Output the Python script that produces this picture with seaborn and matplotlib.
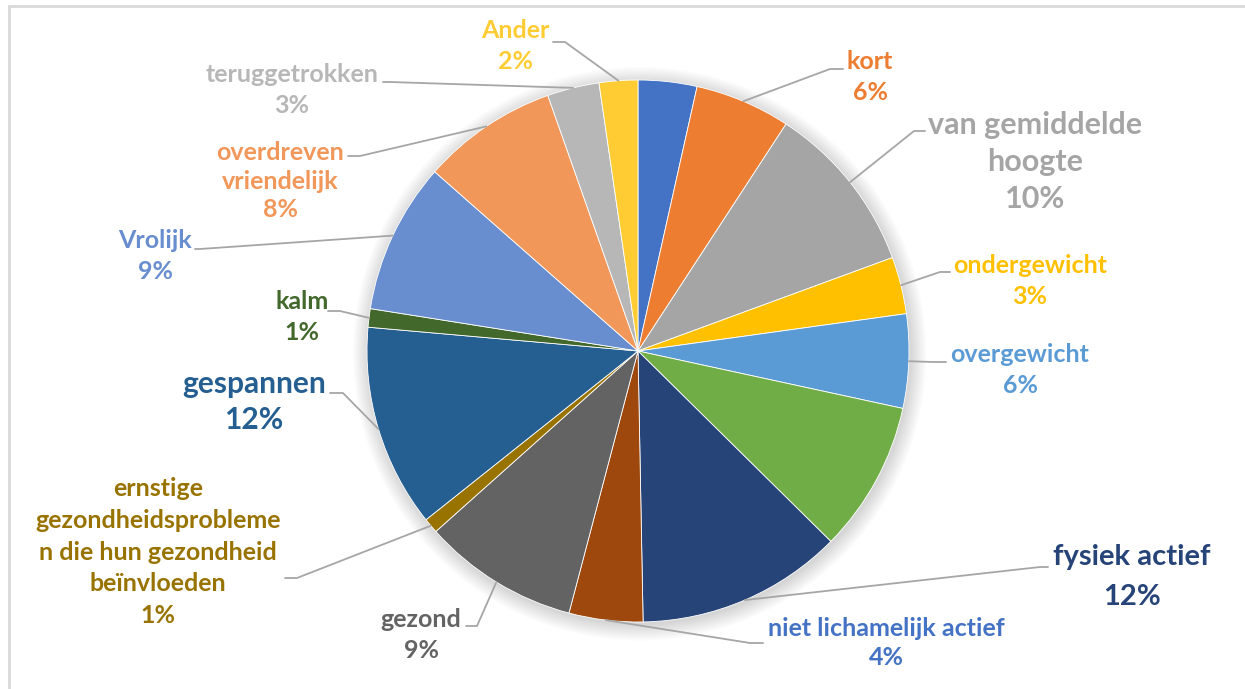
import matplotlib
matplotlib.use("Agg")
import matplotlib.pyplot as plt
from matplotlib.lines import Line2D
from matplotlib.patches import Circle
import seaborn as sns
import numpy as np

# ---------------- data ----------------
categories = ["", "kort", "van gemiddelde\nhoogte", "ondergewicht", "overgewicht", "",
              "fysiek actief", "niet lichamelijk actief", "gezond",
              "ernstige\ngezondheidsprobleme\nn die hun gezondheid\nbeïnvloeden",
              "gespannen", "kalm", "Vrolijk", "overdreven\nvriendelijk",
              "teruggetrokken", "Ander"]
values = [3.5, 5.7, 10.2, 3.4, 5.6, 9.0, 12.3, 4.4, 9.3, 0.9, 12.1, 1.1, 9.0, 8.1, 3.1, 2.3]

slice_colors = ["#4472C4", "#ED7D31", "#A5A5A5", "#FFC000", "#5B9BD5", "#70AD47",
                "#264478", "#9E480E", "#636363", "#997300", "#255E91", "#43682B",
                "#698ED0", "#F1975A", "#B7B7B7", "#FFCD33"]
label_colors = ["#4472C4", "#ED7D31", "#A5A5A5", "#FFC000", "#5B9BD5", "#70AD47",
                "#264478", "#4472C4", "#636363", "#997300", "#255E91", "#43682B",
                "#698ED0", "#F1975A", "#B7B7B7", "#FFCD33"]

# ---------------- layout (pixels) ----------------
W, H = 1245, 689
CX, CY, R = 638, 351, 271
# text centre, leader waypoints (from label side towards the pie), fontsize, linespacing
layout = {
    1: ((870, 77), [(843, 69), (830, 69)], 18, 1.4),
    2: ((1035, 162), [(925, 131), (914, 131)], 22, 1.38),
    3: ((1030, 281), [(950, 272), (940, 272)], 18, 1.4),
    4: ((1020, 370), [(946, 362), (933, 362)], 18, 1.4),
    6: ((1132, 577), [(1048, 567), (1040, 567)], 21, 1.65),
    7: ((886, 643), [(763, 643), (750, 643)], 18, 1.3),
    8: ((421, 635), [(466, 626), (477, 626)], 18, 1.4),
    9: ((158, 552), [(285, 578), (297, 578)], 18, 1.46),
    10: ((254, 402), [(330, 393), (343, 393)], 21.5, 1.38),
    11: ((302, 317), [(328, 311), (340, 311)], 18, 1.4),
    12: ((155, 256), [(195, 249), (200, 249)], 18, 1.4),
    13: ((280, 181), [(348, 156), (360, 156)], 18, 1.3),
    14: ((292, 90), [(383, 82), (390, 82)], 18, 1.4),
    15: ((515, 46), [(553, 42), (565, 42)], 18, 1.4),
}

def P(px, py):
    return ((px - CX) / R, (CY - py) / R)

sns.set_theme(style="white")
plt.rcParams['font.family'] = ['Lato', 'DejaVu Sans']

fig = plt.figure(figsize=(W / 100, H / 100), dpi=100)
fig.patch.set_facecolor("white")
ax = fig.add_axes([0, 0, 1, 1])

# soft shadow
for k in range(14):
    ax.add_patch(Circle((0.006, -0.010), 1.0 + k * 0.0045, color="#000000",
                        alpha=0.012, lw=0, zorder=0))

wedges, _ = ax.pie(values, colors=slice_colors, startangle=90, counterclock=False,
                   radius=1.0, center=(0, 0),
                   wedgeprops=dict(edgecolor="white", linewidth=0.6, zorder=1))

total = sum(values)
for i, (cat, v) in enumerate(zip(categories, values)):
    if i not in layout or not cat:
        continue
    (tx, ty), pts, fs, ls = layout[i]
    w = wedges[i]
    mid = np.deg2rad((w.theta1 + w.theta2) / 2)
    start = (np.cos(mid), np.sin(mid))
    path = [P(*p) for p in pts] + [start]
    xs, ys = zip(*path)
    ax.add_line(Line2D(xs, ys, color="#A6A6A6", lw=1.3, zorder=2))
    pct = int(round(v / total * 100))
    x, y = P(tx, ty)
    ax.text(x, y, f"{cat}\n{pct}%", ha="center", va="center", multialignment="center",
            fontsize=fs, fontweight="bold", color=label_colors[i], linespacing=ls,
            zorder=3)

ax.set_xlim(-CX / R, (W - CX) / R)
ax.set_ylim(-(H - CY) / R, CY / R)
ax.set_aspect("equal")
ax.axis("off")

# chart-area border (top and left visible)
fig.add_artist(Line2D([9 / W, 1], [1 - 6 / H, 1 - 6 / H], transform=fig.transFigure,
                      color="#D9D9D9", lw=2))
fig.add_artist(Line2D([9 / W, 9 / W], [0, 1 - 6 / H], transform=fig.transFigure,
                      color="#D9D9D9", lw=2))

fig.savefig("out.png", dpi=100, facecolor="white")
